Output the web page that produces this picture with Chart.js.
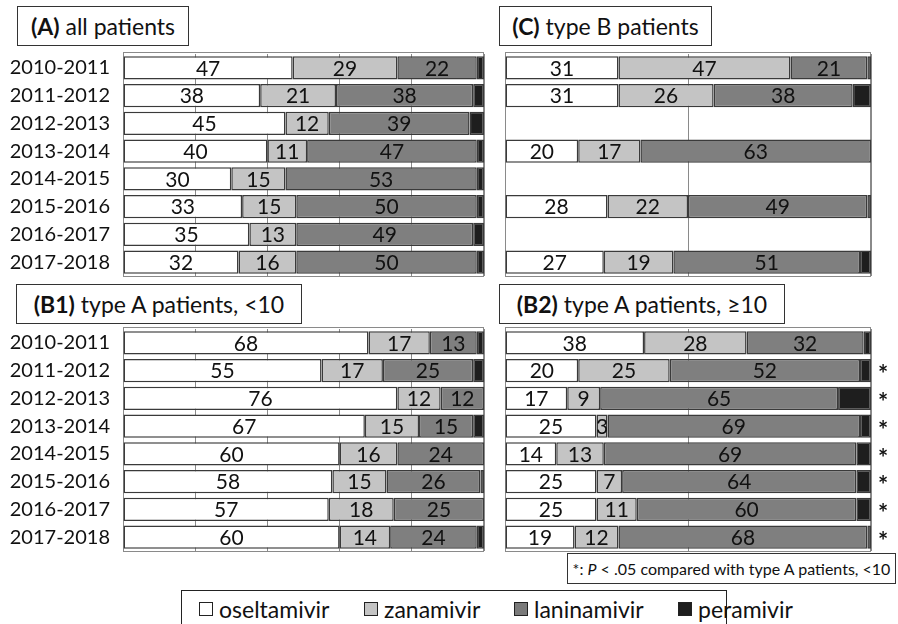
<!DOCTYPE html>
<html><head><meta charset="utf-8">
<script src="https://cdn.jsdelivr.net/npm/chart.js@4/dist/chart.umd.min.js"></script>
<style>
body{margin:0;width:898px;height:624px;background:#fff;position:relative;overflow:hidden;font-family:Lato,'Noto Sans',sans-serif;color:#111}
.box{position:absolute;border:1.5px solid #333;background:#fff;box-sizing:border-box;font-size:23px;display:flex;align-items:center;justify-content:center;white-space:nowrap;z-index:2}
.cv{position:absolute}
.leg{position:absolute;left:181px;top:590px;width:546px;height:40px;border:1.5px solid #222;box-sizing:border-box;background:#fff;z-index:2}
.li{position:absolute;top:4px;font-size:23px;display:flex;align-items:center;white-space:nowrap;width:max-content}
.sq{width:14px;height:14px;border:1.3px solid #222;box-sizing:border-box;margin-right:6px;flex-shrink:0}
.foot{position:absolute;left:567px;top:553px;width:329px;height:31px;border:1.3px solid #333;box-sizing:border-box;background:#fff;font-size:16px;display:flex;align-items:center;justify-content:center;white-space:nowrap;z-index:2}
</style></head><body>
<div class="box" style="left:17px;top:6px;width:172px;height:40px"><b>(A)</b>&nbsp;all patients</div>
<div class="box" style="left:499px;top:6px;width:213px;height:40px"><b>(C)</b>&nbsp;type B patients</div>
<div class="box" style="left:16px;top:284px;width:286px;height:40px"><b>(B1)</b>&nbsp;type A patients, &lt;10</div>
<div class="box" style="left:499px;top:284px;width:286px;height:40px"><b>(B2)</b>&nbsp;type A patients, ≥10</div>
<div class="cv" style="left:0;top:44px;width:495px;height:240px"><canvas id="cA"></canvas></div>
<div class="cv" style="left:495px;top:44px;width:403px;height:240px"><canvas id="cC"></canvas></div>
<div class="cv" style="left:0;top:319px;width:495px;height:240px"><canvas id="cB1"></canvas></div>
<div class="cv" style="left:495px;top:319px;width:403px;height:240px"><canvas id="cB2"></canvas></div>
<div class="foot">*:&nbsp;<i>P</i>&nbsp;&lt; .05 compared with type A patients, &lt;10</div>
<div class="leg">
 <div class="li" style="left:17px"><div class="sq" style="background:#fff"></div>oseltamivir</div>
 <div class="li" style="left:182px"><div class="sq" style="background:#c4c4c4"></div>zanamivir</div>
 <div class="li" style="left:332px"><div class="sq" style="background:#7a7a7a"></div>laninamivir</div>
 <div class="li" style="left:496px"><div class="sq" style="background:#1e1e1e"></div>peramivir</div>
</div>
<script>
const seasons = ['2010-2011','2011-2012','2012-2013','2013-2014','2014-2015','2015-2016','2016-2017','2017-2018'];
const drugNames = ['oseltamivir','zanamivir','laninamivir','peramivir'];
const drugColors = ['#ffffff','#c4c4c4','#7f7f7f','#1e1e1e'];

// (A) all patients
const allOsel = [47,38,45,40,30,33,35,32];
const allZana = [29,21,12,11,15,15,13,16];
const allLani = [22,38,39,47,53,50,49,50];
const allPera = [2,3,4,2,2,2,3,2];

// (C) type B patients
const typeBOsel = [31,31,null,20,null,28,null,27];
const typeBZana = [47,26,null,17,null,22,null,19];
const typeBLani = [21,38,null,63,null,49,null,51];
const typeBPera = [1,5,null,0,null,1,null,3];

// (B1) type A patients, <10
const aUnder10Osel = [68,55,76,67,60,58,57,60];
const aUnder10Zana = [17,17,12,15,16,15,18,14];
const aUnder10Lani = [13,25,12,15,24,26,25,24];
const aUnder10Pera = [2,3,0,3,0,1,0,2];

// (B2) type A patients, >=10
const aOver10Osel = [38,20,17,25,14,25,25,19];
const aOver10Zana = [28,25,9,3,13,7,11,12];
const aOver10Lani = [32,52,65,69,69,64,60,68];
const aOver10Pera = [2,3,9,3,4,4,4,1];
const aOver10Stars = ['','*','*','*','*','*','*','*'];

const FONT = 'Lato, "Noto Sans", sans-serif';

const segLabels = {
  id:'segLabels',
  afterDatasetsDraw(chart){
    const ctx = chart.ctx; ctx.save();
    ctx.font = '21px ' + FONT; ctx.fillStyle = '#111';
    ctx.textAlign = 'center'; ctx.textBaseline = 'middle';
    chart.data.datasets.forEach((ds,i)=>{
      if(i>2) return;
      chart.getDatasetMeta(i).data.forEach((el,j)=>{
        const v = ds.data[j];
        if(v==null || v===0) return;
        ctx.fillText(String(v), (el.x+el.base)/2, el.y+1);
      });
    });
    ctx.restore();
  }
};
const frame = {
  id:'frame',
  beforeDatasetsDraw(chart){
    const a = chart.chartArea, ctx = chart.ctx; ctx.save();
    ctx.strokeStyle = '#8a8a8a'; ctx.lineWidth = 1;
    ctx.strokeRect(a.left+0.5, a.top-1.5, a.right-a.left-1, a.bottom-a.top+2);
    ctx.restore();
  }
};
const stars = {
  id:'stars',
  afterDraw(chart){
    const marks = chart.options.plugins.stars && chart.options.plugins.stars.marks;
    if(!marks) return;
    const ctx = chart.ctx, y = chart.scales.y; ctx.save();
    ctx.font = 'bold 24px ' + FONT; ctx.fillStyle = '#111';
    ctx.textAlign = 'center'; ctx.textBaseline = 'middle';
    marks.forEach((m,i)=>{ if(m) ctx.fillText(m, chart.chartArea.right+12, y.getPixelForValue(i)+5); });
    ctx.restore();
  }
};

function makeChart(id, series, opt){
  const datasets = series.map((d,i)=>({
    label: drugNames[i], data: d, backgroundColor: drugColors[i],
    borderColor:'#3a3a3a', borderWidth:1.5, borderSkipped:false,
    barPercentage:0.83, categoryPercentage:1
  }));
  return new Chart(document.getElementById(id), {
    type:'bar',
    data:{labels:seasons, datasets},
    plugins:[frame, segLabels, stars],
    options:{
      indexAxis:'y', responsive:true, maintainAspectRatio:false, animation:false,
      layout:{padding:{top:10,bottom:8,left:0,right:opt.right}},
      plugins:{legend:{display:false}, tooltip:{enabled:false}, stars:{marks:opt.stars||null}},
      scales:{
        x:{stacked:true, min:0, max:100,
           ticks:{display:false, stepSize:opt.step},
           grid:{color:'#8a8a8a', lineWidth:1, drawTicks:false},
           border:{display:false},
           afterFit:s=>{s.height=0; s.paddingLeft=0; s.paddingRight=0;}},
        y:{stacked:true,
           grid:{display:false, drawTicks:false},
           border:{display:false},
           ticks:{display:opt.showLabels, font:{size:20,family:FONT}, color:'#111', padding:13},
           afterFit:s=>{s.width=opt.yWidth; s.paddingTop=0; s.paddingBottom=0;}}
      }
    }
  });
}

makeChart('cA', [allOsel,allZana,allLani,allPera], {right:11, yWidth:123, step:20, showLabels:true});
makeChart('cC', [typeBOsel,typeBZana,typeBLani,typeBPera], {right:27, yWidth:10, step:50, showLabels:false});
makeChart('cB1', [aUnder10Osel,aUnder10Zana,aUnder10Lani,aUnder10Pera], {right:11, yWidth:123, step:20, showLabels:true});
makeChart('cB2', [aOver10Osel,aOver10Zana,aOver10Lani,aOver10Pera], {right:27, yWidth:10, step:50, showLabels:false, stars:aOver10Stars});
</script>
</body></html>
